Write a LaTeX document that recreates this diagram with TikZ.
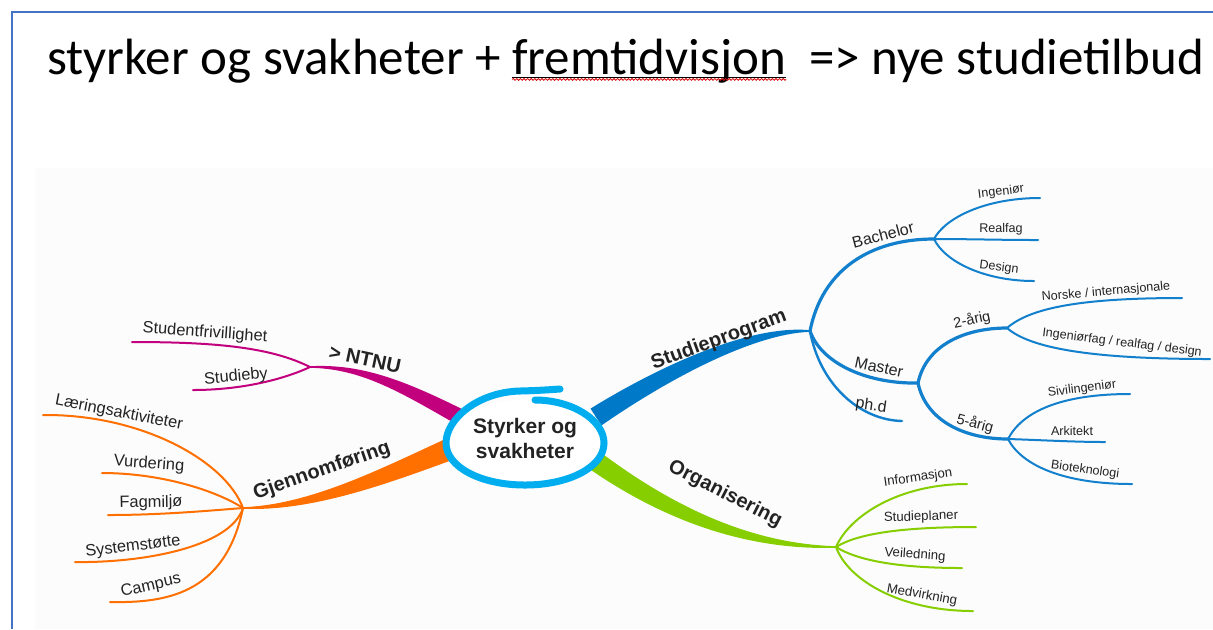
\documentclass[tikz,border=0pt]{standalone}
\usepackage{fontspec}
\newfontfamily\mapfont{Liberation Sans}
\newfontfamily\titlefont{Carlito}
\usetikzlibrary{decorations.pathmorphing}
\definecolor{frameblue}{RGB}{68,114,196}
\definecolor{bgpanel}{RGB}{252,252,252}
\definecolor{magC}{RGB}{194,0,126}
\definecolor{orC}{RGB}{255,112,0}
\definecolor{blC}{RGB}{0,122,200}
\definecolor{blL}{RGB}{18,128,205}
\definecolor{grC}{RGB}{134,206,0}
\definecolor{cyC}{RGB}{0,174,239}
\definecolor{labelgray}{RGB}{35,35,35}
\begin{document}
\begin{tikzpicture}[x=0.5pt,y=-0.5pt,
  titletext/.style={font=\titlefont\fontsize{25.5}{30}\selectfont, inner sep=0pt, outer sep=0pt},
  branchlabel/.style={font=\mapfont\bfseries\fontsize{10}{12}\selectfont, text=labelgray, inner sep=0pt},
  midlabel/.style={font=\mapfont\fontsize{8}{9.5}\selectfont, text=labelgray, inner sep=0pt},
  leftleaf/.style={font=\mapfont\fontsize{8.2}{9.5}\selectfont, text=labelgray, inner sep=0pt},
  rightleaf/.style={font=\mapfont\fontsize{6.3}{7.5}\selectfont, text=labelgray, inner sep=0pt},
  greenleaf/.style={font=\mapfont\fontsize{6.6}{7.5}\selectfont, text=labelgray, inner sep=0pt},
  centertext/.style={font=\mapfont\bfseries\fontsize{10.5}{12.5}\selectfont, text=labelgray, align=center, inner sep=0pt},
  leafline/.style={line width=1pt, line cap=round},
  midline/.style={blL, line width=1.6pt, line cap=round},
  spine/.style={line width=0.8pt},
]
\fill[white] (0,0) rectangle (1213,629);
\useasboundingbox (0,0) rectangle (1213,629);
\fill[bgpanel] (35,168) rectangle (1213,629);
\draw[frameblue, line width=1pt] (12,629) -- (12,12) -- (1213,12);

% title
\node[titletext, anchor=base west] (t1) at (47,74) {styrker og svakheter +};
\node[titletext, anchor=base west] (t2) at ([xshift=5.76pt]t1.base east) {fremtidvisjon};
\node[titletext, anchor=base west] (t3) at ([xshift=11.5pt]t2.base east) {=> nye studietilbud};
\draw[line width=0.6pt] ([yshift=-1.6pt]t2.base west) -- ([yshift=-1.6pt]t2.base east);
\draw[red!85!black, line width=0.4pt, decorate, decoration={snake, amplitude=0.45pt, segment length=1.8pt}]
  ([yshift=-2.7pt]t2.base west) -- ([yshift=-2.7pt]t2.base east);

% junctions and ends
\coordinate (jN) at (310,367);
\coordinate (jG) at (243,508);
\coordinate (jS) at (810,331);
\coordinate (jO) at (836,547);
\coordinate (jB) at (934,239);
\coordinate (jM) at (918,383);
\coordinate (jT) at (1007,328);
\coordinate (jF) at (1008,439);
\coordinate (eSF) at (132,342);
\coordinate (eSB) at (193,390);
\coordinate (eLA) at (43,415);
\coordinate (eVU) at (102,473);
\coordinate (eFA) at (108,515);
\coordinate (eSY) at (75,562);
\coordinate (eCA) at (110,602);
\coordinate (eP) at (902,421);
\coordinate (eIN) at (1040,198);
\coordinate (eRE) at (1038,240);
\coordinate (eDE) at (1034,281);
\coordinate (eNO) at (1182,298);
\coordinate (eIF) at (1210,359);
\coordinate (eSI) at (1130,394);
\coordinate (eAR) at (1105,442);
\coordinate (eBI) at (1132,484);
\coordinate (eINF) at (967,484);
\coordinate (eSTP) at (976,527);
\coordinate (eVE) at (962,568);
\coordinate (eME) at (973,611);
\coordinate (cN) at (458,416);
\coordinate (cG) at (450,449);
\coordinate (cS) at (596,417);
\coordinate (cO) at (594,460);

% thick tapered branches
\fill[magC] (310,366.2) .. controls (360.5,363.55) and (402.7,379.7) .. (461.7,408.9)
  -- (454.3,423.1) .. controls (397.3,390.3) and (359.5,368.45) .. (310,367.8) -- cycle;
\draw[magC, spine] (jN) .. controls (360,366) and (400,385) .. (cN);
\fill[orC] (243,507.2) .. controls (309.3,504.6) and (376.9,470.6) .. (445.8,438.8)
  -- (454.2,459.2) .. controls (383.1,485.4) and (310.7,511.4) .. (243,508.8) -- cycle;
\draw[orC, spine] (jG) .. controls (310,508) and (380,478) .. (cG);
\fill[blC] (810,330.2) .. controls (748.6,324.2) and (656,368.1) .. (590.5,408.6)
  -- (601.5,425.4) .. controls (664,381.9) and (751.4,333.8) .. (810,331.8) -- cycle;
\draw[blC, spine] (jS) .. controls (750,329) and (660,375) .. (cS);
\fill[grC] (836,546.2) .. controls (760.5,544) and (683.7,514.9) .. (599.9,451.9)
  -- (588.2,468.1) .. controls (676.3,529.1) and (759.5,550) .. (836,547.8) -- cycle;
\draw[grC, spine] (jO) .. controls (760,547) and (680,522) .. (cO);

% magenta leaves
\draw[magC, leafline] (jN) .. controls (272,348) and (220,342) .. (eSF);
\draw[magC, leafline] (jN) .. controls (282,380) and (240,390) .. (eSB);

% orange leaves
\draw[orC, leafline] (jG) .. controls (225,460) and (140,414) .. (eLA);
\draw[orC, leafline] (jG) .. controls (215,490) and (160,473) .. (eVU);
\draw[orC, leafline] (jG) .. controls (205,511) and (160,515) .. (eFA);
\draw[orC, leafline] (jG) .. controls (230,548) and (140,563) .. (eSY);
\draw[orC, leafline] (jG) .. controls (225,595) and (165,603) .. (eCA);

% blue sub-branches
\draw[midline] (jS) .. controls (822,270) and (870,239) .. (jB);
\draw[midline] (jS) .. controls (822,365) and (870,384) .. (jM);
\draw[blL, leafline, line width=1.2pt] (jS) .. controls (820,385) and (860,420) .. (eP);
\draw[midline] (jM) .. controls (926,345) and (965,328) .. (jT);
\draw[midline] (jM) .. controls (926,421) and (965,439) .. (jF);
\draw[blL, leafline] (jB) .. controls (945,218) and (985,198) .. (eIN);
\draw[blL, leafline] (jB) .. controls (970,239) and (1000,240) .. (eRE);
\draw[blL, leafline] (jB) .. controls (945,262) and (985,281) .. (eDE);
\draw[blL, leafline] (jT) .. controls (1030,308) and (1080,298) .. (eNO);
\draw[blL, leafline] (jT) .. controls (1030,348) and (1090,359) .. (eIF);
\draw[blL, leafline] (jF) .. controls (1022,412) and (1060,394) .. (eSI);
\draw[blL, leafline] (jF) .. controls (1040,440) and (1075,442) .. (eAR);
\draw[blL, leafline] (jF) .. controls (1022,466) and (1065,484) .. (eBI);

% green leaves
\draw[grC, leafline] (jO) .. controls (850,515) and (900,484) .. (eINF);
\draw[grC, leafline] (jO) .. controls (860,532) and (910,527) .. (eSTP);
\draw[grC, leafline] (jO) .. controls (860,562) and (905,568) .. (eVE);
\draw[grC, leafline] (jO) .. controls (848,580) and (900,611) .. (eME);

% central ellipse
\fill[white] (525,443) ellipse [x radius=79, y radius=43];
\draw[cyC, line width=3.5pt, line cap=round]
  (535,400) .. controls (572,400) and (604,420) .. (604,443)
  .. controls (604,467) and (569,485) .. (525,485)
  .. controls (481,485) and (446,467) .. (446,443)
  .. controls (446,419) and (478,392) .. (520,391)
  .. controls (540,390.5) and (552,389.5) .. (560,389);
\node[centertext] (c) at (525,438) {Styrker og\\svakheter};

% branch labels
\node[branchlabel, rotate=-12] (lN) at (365,359) {> NTNU};
\node[branchlabel, rotate=19] (lG) at (322,471) {Gjennomføring};
\node[branchlabel, rotate=20] (lS) at (719,340) {Studieprogram};
\node[branchlabel, rotate=-27] (lO) at (725,494) {Organisering};

% left leaf labels
\node[leftleaf, rotate=-4] (lSF) at (205,333) {Studentfrivillighet};
\node[leftleaf, rotate=5] (lSB) at (236,377) {Studieby};
\node[leftleaf, rotate=-11] (lLA) at (119,413) {Læringsaktiviteter};
\node[leftleaf, rotate=-4] (lVU) at (149,464) {Vurdering};
\node[leftleaf, rotate=1] (lFA) at (151,503) {Fagmiljø};
\node[leftleaf, rotate=7] (lSY) at (133,547) {Systemstøtte};
\node[leftleaf, rotate=13] (lCA) at (151,586) {Campus};

% blue labels
\node[midlabel, rotate=15] (lB) at (883,235) {Bachelor};
\node[midlabel, rotate=-12] (lM) at (879,367) {Master};
\node[midlabel, rotate=-8] (lP) at (871,406) {ph.d};
\node[midlabel, font=\mapfont\fontsize{7.3}{8.5}\selectfont, rotate=12] (l2) at (972,320) {2-årig};
\node[midlabel, font=\mapfont\fontsize{7.3}{8.5}\selectfont, rotate=-15] (l5) at (975,424) {5-årig};
\node[rightleaf, rotate=7] (lIN) at (1001,192) {Ingeniør};
\node[rightleaf] (lRE) at (1001,229) {Realfag};
\node[rightleaf, rotate=-7] (lDE) at (999,268) {Design};
\node[rightleaf, rotate=5] (lNO) at (1106,292) {Norske / internasjonale};
\node[rightleaf, rotate=-7] (lIF) at (1122,343) {Ingeniørfag / realfag / design};
\node[rightleaf, rotate=7] (lSI) at (1082,389) {Sivilingeniør};
\node[rightleaf] (lAR) at (1072,431) {Arkitekt};
\node[rightleaf, rotate=-8] (lBI) at (1085,470) {Bioteknologi};

% green labels
\node[greenleaf, rotate=8] (lINF) at (918,478) {Informasjon};
\node[greenleaf, rotate=2] (lSTP) at (921,517) {Studieplaner};
\node[greenleaf, rotate=-4] (lVE) at (915,555) {Veiledning};
\node[greenleaf, rotate=-10] (lME) at (922,595) {Medvirkning};
\end{tikzpicture}
\end{document}
